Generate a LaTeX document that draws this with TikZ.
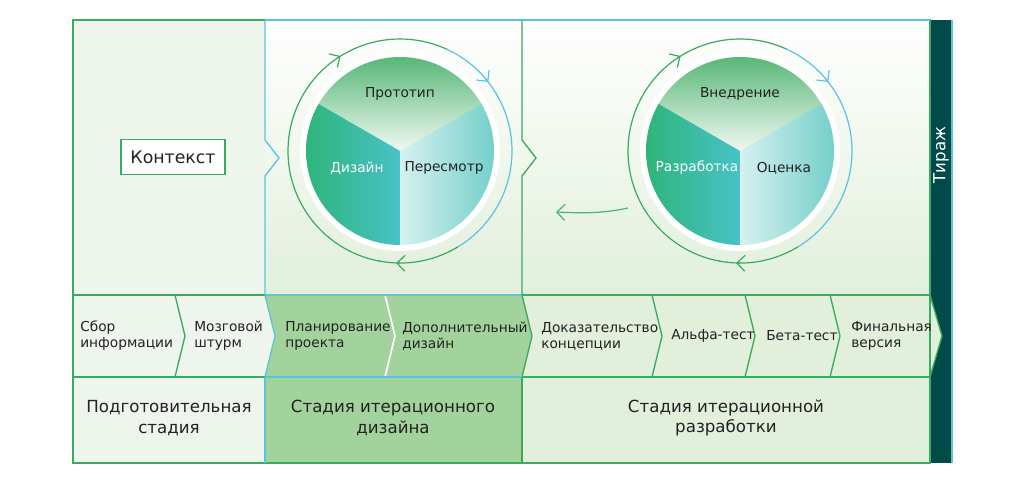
\documentclass[tikz,border=0pt]{standalone}
\usepackage{fontspec}
\setmainfont{DejaVu Sans}
\usetikzlibrary{arrows.meta}
\definecolor{gA}{HTML}{3AAA5E}
\definecolor{bA}{HTML}{5BC4DB}
\definecolor{pale}{HTML}{EEF5EC}
\definecolor{lgr}{HTML}{E1EFDB}
\definecolor{mgr}{HTML}{A3D39C}
\definecolor{dk}{HTML}{004A4A}
\definecolor{pieG}{HTML}{22AE55}
\definecolor{pieB}{HTML}{52C8E8}
\definecolor{pieT}{HTML}{45BFB8}
\definecolor{txt}{HTML}{222222}
\tikzset{
 chev/.style={font=\fontsize{10.3}{12}\selectfont, text=txt, align=left, anchor=west, inner xsep=0pt},
 stg/.style={font=\fontsize{12.5}{15.5}\selectfont, text=txt, align=center},
 pie/.style={font=\fontsize{10.3}{12}\selectfont},
 ring/.style={line width=0.9pt},
 tip/.style={-{Straight Barb[length=6pt,width=12pt]}}
}
\begin{document}
\begin{tikzpicture}[x=0.75pt,y=-0.75pt]
\useasboundingbox (0,0) rectangle (1024,490);
% top backgrounds
\fill[pale] (73,20) rectangle (265,295);
\shade[top color=white,bottom color=lgr] (265,20) rectangle (522,295);
\shade[top color=white,bottom color=lgr] (522,20) rectangle (930,295);
\fill[dk] (930,20) rectangle (952,463);
\node[rotate=90,text=white,font=\fontsize{12.5}{14}\selectfont] (tir) at (941,155) {Тираж};
% bottom
\fill[pale] (73,377) rectangle (265,463);
\fill[mgr] (265,377) rectangle (522,463);
\fill[lgr] (522,377) rectangle (930,463);
% chevrons
\fill[pale] (73,295) -- (175,295) -- (185,336) -- (175,377) -- (73,377) -- cycle;
\fill[pale] (175,295) -- (265,295) -- (275,336) -- (265,377) -- (175,377) -- (185,336) -- cycle;
\fill[mgr] (265,295) -- (522,295) -- (532,336) -- (522,377) -- (265,377) -- (275,336) -- cycle;
\fill[lgr] (522,295) -- (930,295) -- (942,336) -- (930,377) -- (522,377) -- (532,336) -- cycle;
\draw[white,line width=1.3pt] (385,295) -- (395,336) -- (385,377);
\draw[gA,line width=1pt] (175,295) -- (185,336) -- (175,377);
\draw[bA,line width=1pt] (265,295) -- (275,336) -- (265,377);
\draw[gA,line width=1pt] (522,295) -- (532,336) -- (522,377);
\draw[gA,line width=1pt] (652,295) -- (662,336) -- (652,377);
\draw[gA,line width=1pt] (745,295) -- (755,336) -- (745,377);
\draw[gA,line width=1pt] (830,295) -- (840,336) -- (830,377);
\draw[gA,line width=1pt] (930,295) -- (942,336) -- (930,377);
% grid lines
\draw[gA,line width=1pt] (73,20) rectangle (930,463);
\draw[bA,line width=1pt] (265,20) -- (930,20);
\draw[gA,line width=1pt] (73,295) -- (930,295);
\draw[gA,line width=1pt] (73,377) -- (930,377);
\draw[bA,line width=1pt] (265,295) -- (522,295) (265,377) -- (522,377);
\draw[bA,line width=1pt] (265,20) -- (265,140) -- (279,158) -- (265,176) -- (265,295);
\draw[bA,line width=1pt] (265,377) -- (265,463);
\draw[gA,line width=1pt] (522,20) -- (522,140) -- (536,158) -- (522,176) -- (522,295);
\draw[gA,line width=1pt] (522,377) -- (522,463);
\draw[bA,line width=1pt] (952,20) -- (952,463);
% chevron texts
\node[chev] (c1) at (80,336) {Сбор\\информации};
\node[chev] (c2) at (194,336) {Мозговой\\штурм};
\node[chev] (c3) at (285,336) {Планирование\\проекта};
\node[chev] (c4) at (402,336) {Дополнительный\\дизайн};
\node[chev] (c5) at (541,336) {Доказательство\\концепции};
\node[chev] (c6) at (671,336) {Альфа-тест};
\node[chev] (c7) at (766,336) {Бета-тест};
\node[chev] (c8) at (851,336) {Финальная\\версия};
% stage texts
\node[stg] (s1) at (169,418) {Подготовительная\\стадия};
\node[stg] (s2) at (393,418) {Стадия итерационного\\дизайна};
\node[stg] (s3) at (726,418) {Стадия итерационной\\разработки};
% context
\node[draw=gA,line width=1pt,fill=white,minimum width=78pt,minimum height=26pt,font=\fontsize{13}{15}\selectfont,text=txt] (ctx) at (173,157) {Контекст};
% cycles
\foreach \cx/\nm/\ta/\tb/\tc in {400/a/Прототип/Дизайн/Пересмотр, 740/b/Внедрение/Разработка/Оценка}{
 \coordinate (\nm c) at (\cx,151);
 \fill[white] (\nm c) circle[radius=100];
 \begin{scope}
  \clip (\nm c) circle[radius=94];
  \shade[top color=gA!85,bottom color=white] (\cx-94,57) rectangle (\cx+94,160);
 \end{scope}
 \begin{scope}
  \clip (\nm c) -- (\cx-81.4,104) arc[start angle=210,end angle=90,radius=94] -- cycle;
  \shade[shading angle=45,left color=pieG,right color=pieB] (\cx-140,10) rectangle (\cx+40,290);
 \end{scope}
 \begin{scope}
  \clip (\nm c) -- (\cx,245) arc[start angle=90,end angle=-30,radius=94] -- cycle;
  \shade[shading angle=-45,left color=white,right color=pieT] (\cx-40,10) rectangle (\cx+140,290);
 \end{scope}
 % ring
 \draw[ring,gA,tip] (\nm c) ++(100:112) arc[start angle=100,end angle=238,radius=112];
 \draw[ring,gA] (\nm c) ++(236:112) arc[start angle=236,end angle=295,radius=112];
 \draw[ring,bA,tip] (\nm c) ++(294:112) arc[start angle=294,end angle=322,radius=112];
 \draw[ring,bA] (\nm c) ++(320:112) arc[start angle=320,end angle=420,radius=112];
 \draw[ring,gA,tip] (\nm c) ++(419:112) arc[start angle=419,end angle=452,radius=112];
 \draw[ring,gA] (\nm c) ++(450:112) arc[start angle=450,end angle=461,radius=112];
 \node[pie,text=txt] (\nm1) at (\cx,94) {\ta};
 \node[pie,text=white] (\nm2) at (\cx-43,168) {\tb};
 \node[pie,text=txt] (\nm3) at (\cx+44,168) {\tc};
}
\coordinate (bk1) at (628,208);
\coordinate (bk2) at (556,212);
\draw[ring,gA!70!bA,tip] (bk1) .. controls (600,214) and (580,213) .. (bk2);
\end{tikzpicture}
\end{document}
